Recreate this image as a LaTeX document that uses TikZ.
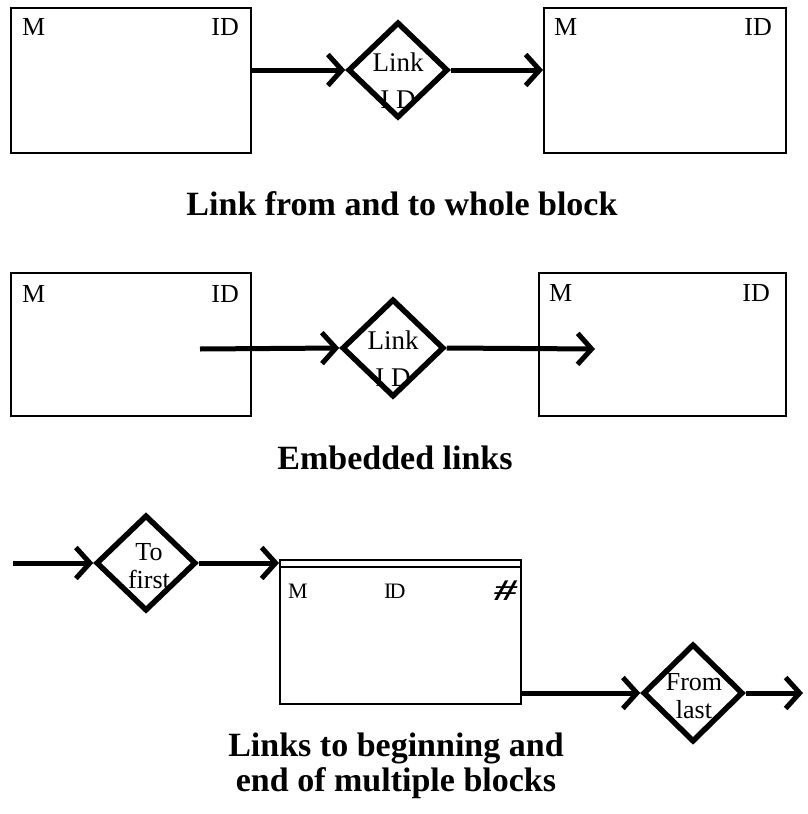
\documentclass[tikz,border=0pt]{standalone}
\usepackage{fontspec}
\setmainfont{Liberation Serif}
\usetikzlibrary{arrows.meta,shapes.geometric,calc}
\begin{document}
\begin{tikzpicture}[x=1pt,y=-1pt,
  blk/.style={draw,line width=2pt,inner sep=0pt,minimum height=145pt},
  dia/.style={draw,diamond,line width=5.5pt,inner sep=0pt,minimum width=100pt,minimum height=96pt,miter limit=10},
  conn/.style={line width=5pt,-{Straight Barb[length=14pt,width=31pt]}},
  lbl/.style={inner sep=0pt,font=\fontsize{26}{30}\selectfont},
  slbl/.style={inner sep=0pt,font=\fontsize{22}{26}\selectfont},
  dtext/.style={inner sep=0pt,align=center,font=\fontsize{27}{37}\selectfont},
  dtextb/.style={inner sep=0pt,align=center,font=\fontsize{26}{28}\selectfont},
  captxt/.style={inner sep=0pt,align=center,font=\fontsize{34}{35}\selectfont\bfseries}]
\useasboundingbox (0,0) rectangle (807,814);

% ---------- Panel 1 ----------
\node[blk,minimum width=240pt] (b1) at (131,80.5) {};
\node[blk,minimum width=242pt] (b2) at (665,80.5) {};
\node[lbl,anchor=base west] (b1m) at (22,35) {M};
\node[lbl,anchor=base east] (b1id) at (239,35) {ID};
\node[lbl,anchor=base west] (b2m) at (554,35) {M};
\node[lbl,anchor=base east] (b2id) at (772,35) {ID};
\node[dia] (d1) at (398,70) {};
\node[dtext] (t1) at (398,81) {Link\\I D};
\draw[conn] (b1.east |- d1.west) -- (d1.west);
\draw[conn] (d1.east) -- (d1.east -| b2.west);
\node[captxt,anchor=base] (c1) at (402,215) {Link from and to whole block};

% ---------- Panel 2 ----------
\node[blk,minimum width=240pt,minimum height=143pt] (b3) at (131,344.5) {};
\node[blk,minimum width=247pt,minimum height=143pt] (b4) at (662.5,344.5) {};
\node[lbl,anchor=base west] (b3m) at (22,302) {M};
\node[lbl,anchor=base east] (b3id) at (239,302) {ID};
\node[lbl,anchor=base west] (b4m) at (549,301) {M};
\node[lbl,anchor=base east] (b4id) at (770,301) {ID};
\node[dia,minimum width=102pt,minimum height=98pt] (d2) at (393,348) {};
\node[dtext] (t2) at (393,359) {Link\\I D};
\coordinate (s2) at (200,349);
\coordinate (e2) at (595,349);
\draw[conn] (s2) -- (d2.west);
\draw[conn] (d2.east) -- (e2);
\node[captxt,anchor=base] (c2) at (395,469) {Embedded links};

% ---------- Panel 3 ----------
\node[blk,minimum width=241pt,minimum height=144pt] (b5) at (400.5,632) {};
\draw[line width=2pt] ($(b5.north west)+(0,8)$) -- ($(b5.north east)+(0,8)$);
\node[slbl,anchor=base west] (b5m) at (288,598) {M};
\node[slbl,anchor=base west] (b5id) at (384,598) {I\kern-2ptD};
\node[inner sep=0pt,anchor=base east,font=\fontsize{30}{32}\selectfont\bfseries\itshape] (b5h) at (517,600) {\scalebox{1.5}[1]{\#}};
\node[dia] (d3) at (146,563) {};
\node[dtextb] (t3) at (149,566) {To\\first};
\node[dia,minimum height=98pt] (d4) at (693,693) {};
\node[dtextb] (t4) at (694,696) {From\\last};
\coordinate (s3) at (13,563);
\coordinate (e3) at (803,693);
\draw[conn] (s3) -- (d3.west);
\draw[conn] (d3.east) -- (d3.east -| b5.west);
\draw[conn] (b5.east |- d4.west) -- (d4.west);
\draw[conn] (d4.east) -- (e3);
\node[captxt,anchor=base] (c3) at (396,791) {Links to beginning and\\end of multiple blocks};
\end{tikzpicture}
\end{document}
